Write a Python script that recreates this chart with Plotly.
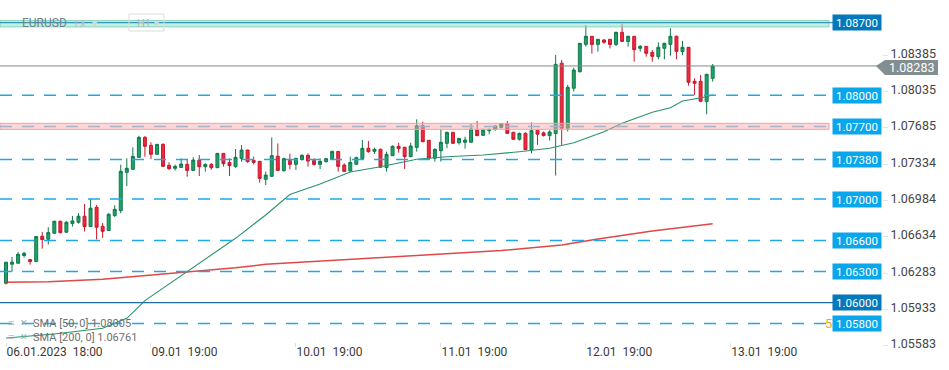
import plotly.graph_objects as go

# ---------------- data ----------------
x_tick_idx = [0, 24, 48, 72, 96, 120]
x_tick_labels = ["06.01.2023\u00a0\u00a018:00", "09.01\u00a0\u00a019:00", "10.01\u00a0\u00a019:00",
                 "11.01\u00a0\u00a019:00", "12.01\u00a0\u00a019:00", "13.01\u00a0\u00a019:00"]

opens = [1.06188, 1.06371, 1.06381, 1.06455, 1.06416, 1.06397, 1.06641, 1.06612, 1.06670, 1.06785,
         1.06680, 1.06763, 1.06776, 1.06834, 1.06734, 1.06920, 1.06737, 1.06696, 1.06840, 1.06888,
         1.07257, 1.07286, 1.07402, 1.07594, 1.07517, 1.07431, 1.07527, 1.07325, 1.07296, 1.07305,
         1.07334, 1.07276, 1.07376, 1.07312, 1.07334, 1.07302, 1.07440, 1.07353, 1.07312, 1.07392,
         1.07472, 1.07372, 1.07363, 1.07190, 1.07219, 1.07412, 1.07273, 1.07370, 1.07334, 1.07379,
         1.07421, 1.07370, 1.07334, 1.07360, 1.07389, 1.07459, 1.07328, 1.07270, 1.07335, 1.07389,
         1.07489, 1.07460, 1.07479, 1.07303, 1.07418, 1.07508, 1.07498, 1.07409, 1.07498, 1.07707,
         1.07566, 1.07393, 1.07466, 1.07537, 1.07643, 1.07543, 1.07547, 1.07547, 1.07665, 1.07614,
         1.07659, 1.07672, 1.07691, 1.07723, 1.07643, 1.07576, 1.07633, 1.07476, 1.07663, 1.07638,
         1.07612, 1.07631, 1.08309, 1.07683, 1.08068, 1.08228, 1.08491, 1.08569, 1.08491, 1.08533,
         1.08540, 1.08491, 1.08607, 1.08520, 1.08569, 1.08453, 1.08472, 1.08414, 1.08373, 1.08453,
         1.08491, 1.08569, 1.08421, 1.08463, 1.08135, 1.08135, 1.07940, 1.08164]
highs = [1.06392, 1.06442, 1.06487, 1.06490, 1.06419, 1.06644, 1.06683, 1.06728, 1.06792, 1.06792,
         1.06786, 1.06837, 1.06863, 1.06952, 1.07001, 1.06943, 1.06769, 1.06862, 1.06940, 1.07331,
         1.07392, 1.07498, 1.07610, 1.07607, 1.07546, 1.07530, 1.07537, 1.07354, 1.07331, 1.07392,
         1.07386, 1.07402, 1.07424, 1.07344, 1.07344, 1.07443, 1.07443, 1.07392, 1.07482, 1.07520,
         1.07475, 1.07408, 1.07366, 1.07264, 1.07594, 1.07536, 1.07398, 1.07437, 1.07398, 1.07431,
         1.07440, 1.07392, 1.07392, 1.07395, 1.07466, 1.07462, 1.07344, 1.07408, 1.07409, 1.07569,
         1.07560, 1.07495, 1.07486, 1.07457, 1.07518, 1.07543, 1.07505, 1.07543, 1.07768, 1.07746,
         1.07569, 1.07489, 1.07675, 1.07649, 1.07646, 1.07588, 1.07601, 1.07723, 1.07752, 1.07678,
         1.07681, 1.07710, 1.07733, 1.07752, 1.07649, 1.07640, 1.07643, 1.07739, 1.07669, 1.07651,
         1.07663, 1.08389, 1.08341, 1.08100, 1.08267, 1.08504, 1.08678, 1.08572, 1.08543, 1.08543,
         1.08543, 1.08614, 1.08690, 1.08575, 1.08572, 1.08485, 1.08475, 1.08437, 1.08511, 1.08507,
         1.08646, 1.08575, 1.08524, 1.08466, 1.08164, 1.08196, 1.08206, 1.08302]
lows = [1.06176, 1.06301, 1.06378, 1.06436, 1.06368, 1.06395, 1.06522, 1.06561, 1.06667, 1.06667,
        1.06677, 1.06734, 1.06763, 1.06686, 1.06731, 1.06609, 1.06625, 1.06693, 1.06827, 1.06863,
        1.07126, 1.07283, 1.07399, 1.07408, 1.07386, 1.07428, 1.07312, 1.07280, 1.07274, 1.07302,
        1.07215, 1.07273, 1.07222, 1.07264, 1.07283, 1.07299, 1.07312, 1.07222, 1.07302, 1.07360,
        1.07350, 1.07334, 1.07158, 1.07135, 1.07216, 1.07273, 1.07264, 1.07286, 1.07280, 1.07373,
        1.07312, 1.07321, 1.07289, 1.07354, 1.07382, 1.07264, 1.07264, 1.07264, 1.07328, 1.07386,
        1.07447, 1.07434, 1.07303, 1.07264, 1.07415, 1.07447, 1.07290, 1.07402, 1.07457, 1.07547,
        1.07390, 1.07361, 1.07361, 1.07489, 1.07534, 1.07524, 1.07486, 1.07543, 1.07608, 1.07611,
        1.07624, 1.07659, 1.07681, 1.07630, 1.07569, 1.07563, 1.07473, 1.07441, 1.07522, 1.07602,
        1.07564, 1.07227, 1.07522, 1.07651, 1.08036, 1.08219, 1.08469, 1.08402, 1.08421, 1.08498,
        1.08453, 1.08475, 1.08517, 1.08469, 1.08324, 1.08421, 1.08373, 1.08324, 1.08347, 1.08347,
        1.08382, 1.08347, 1.08386, 1.08093, 1.08004, 1.07933, 1.07817, 1.08132]
closes = [1.06391, 1.06391, 1.06468, 1.06477, 1.06397, 1.06638, 1.06609, 1.06676, 1.06785, 1.06676,
          1.06776, 1.06789, 1.06834, 1.06734, 1.06911, 1.06728, 1.06689, 1.06853, 1.06901, 1.07267,
          1.07296, 1.07411, 1.07594, 1.07508, 1.07431, 1.07527, 1.07315, 1.07293, 1.07315, 1.07337,
          1.07276, 1.07376, 1.07312, 1.07334, 1.07302, 1.07440, 1.07341, 1.07321, 1.07402, 1.07472,
          1.07360, 1.07353, 1.07199, 1.07231, 1.07418, 1.07276, 1.07389, 1.07334, 1.07392, 1.07421,
          1.07366, 1.07334, 1.07363, 1.07389, 1.07459, 1.07315, 1.07267, 1.07353, 1.07399, 1.07489,
          1.07457, 1.07479, 1.07306, 1.07431, 1.07508, 1.07486, 1.07409, 1.07511, 1.07707, 1.07553,
          1.07393, 1.07479, 1.07547, 1.07643, 1.07537, 1.07585, 1.07569, 1.07675, 1.07611, 1.07665,
          1.07669, 1.07704, 1.07726, 1.07633, 1.07576, 1.07633, 1.07476, 1.07659, 1.07625, 1.07612,
          1.07647, 1.08299, 1.07683, 1.08077, 1.08244, 1.08501, 1.08569, 1.08491, 1.08540, 1.08511,
          1.08491, 1.08607, 1.08520, 1.08569, 1.08440, 1.08472, 1.08405, 1.08376, 1.08463, 1.08501,
          1.08569, 1.08424, 1.08463, 1.08126, 1.08116, 1.07943, 1.08203, 1.08283]

sma50_idx = [0, 8, 16, 20, 23, 30, 38, 43, 47, 52, 57, 62, 68, 73, 79, 85, 88, 90, 94, 99,
             102, 104, 107, 110, 112, 116, 117]
sma50_val = [1.05660, 1.05698, 1.05753, 1.05850, 1.06020, 1.06299, 1.06621, 1.06846, 1.07043, 1.07145,
             1.07260, 1.07311, 1.07383, 1.07408, 1.07424, 1.07456, 1.07477, 1.07489, 1.07543, 1.07649,
             1.07730, 1.07771, 1.07836, 1.07880, 1.07945, 1.07986, 1.08005]

sma200_idx = [0, 7, 16, 21, 27, 32, 38, 43, 52, 72, 82, 92, 98, 107, 117]
sma200_val = [1.06197, 1.06202, 1.06226, 1.06251, 1.06277, 1.06309, 1.06337, 1.06370, 1.06402,
              1.06470, 1.06503, 1.06556, 1.06614, 1.06691, 1.06761]

y_ticks = [1.08385, 1.08035, 1.07685, 1.07334, 1.06984, 1.06634, 1.06283, 1.05933, 1.05583]
dashed_levels = [1.08000, 1.07380, 1.07000, 1.06600, 1.06300, 1.05800]
dark_levels = [1.08700, 1.06000]
green_zone = [1.08660, 1.08720]
red_zone = [1.07672, 1.07730]
red_zone_level = 1.07700
last_price = 1.08283
sma50_last = 1.08005
sma200_last = 1.06761

# ---------------- layout geometry ----------------
W, H = 949, 370
ML, MR, MT, MB = 0, 67, 0, 23
PW, PH = W - ML - MR, H - MT - MB
Y_RANGE = [1.05573, 1.08919]
X_RANGE = [-0.993, 145.03]
DPX = (Y_RANGE[1] - Y_RANGE[0]) / PH  # price per pixel


def px(xp):
    return xp / PW


def py(yp):
    return 1 - yp / PH


n = len(opens)
xs = list(range(n))

fig = go.Figure()
fig.add_trace(go.Candlestick(
    x=xs, open=opens, high=highs, low=lows, close=closes,
    increasing=dict(line=dict(color="#11784b", width=1), fillcolor="#20a26b"),
    decreasing=dict(line=dict(color="#c8192d", width=1), fillcolor="#ee2a3e"),
    whiskerwidth=0, hoverinfo="skip"))
fig.add_trace(go.Scatter(x=sma200_idx, y=sma200_val, mode="lines",
                         line=dict(color="rgba(216,40,40,0.85)", width=1.5), hoverinfo="skip"))
fig.add_trace(go.Scatter(x=sma50_idx, y=sma50_val, mode="lines",
                         line=dict(color="#2a9368", width=1.1), hoverinfo="skip"))

shapes = []
X_END = px(833)
# green zone
shapes.append(dict(type="rect", xref="paper", yref="y", x0=0, x1=px(829), y0=green_zone[0], y1=green_zone[1],
                   fillcolor="rgba(150,228,200,0.55)", line=dict(color="#7fd4b9", width=1), layer="above"))
# red zone
shapes.append(dict(type="rect", xref="paper", yref="y", x0=0, x1=px(829), y0=red_zone[0], y1=red_zone[1],
                   fillcolor="rgba(250,165,165,0.45)", line=dict(color="#f2a2a2", width=1), layer="above"))
shapes.append(dict(type="line", xref="paper", yref="y", x0=0, x1=X_END, y0=red_zone_level, y1=red_zone_level,
                   line=dict(color="#a7b3c9", width=1.5, dash="12px,10px"), layer="above"))
for lv in dashed_levels:
    shapes.append(dict(type="line", xref="paper", yref="y", x0=0, x1=X_END, y0=lv, y1=lv,
                       line=dict(color="#22a6ea", width=1.5, dash="12px,10px"), layer="above"))
shapes.append(dict(type="line", xref="paper", yref="y", x0=0, x1=X_END, y0=dark_levels[0], y1=dark_levels[0],
                   line=dict(color="#3595bd", width=1.2), layer="above"))
shapes.append(dict(type="line", xref="paper", yref="y", x0=0, x1=X_END, y0=dark_levels[1], y1=dark_levels[1],
                   line=dict(color="#1d6fa5", width=1.2), layer="above"))
# last price line
shapes.append(dict(type="line", xref="paper", yref="y", x0=0, x1=px(878), y0=last_price, y1=last_price,
                   line=dict(color="#7f8b8d", width=1), layer="above"))
# last price arrow box (slightly below the line, as in the source)
top = last_price + 6 * DPX
bot = last_price - 9 * DPX
shapes.append(dict(type="path", xref="paper", yref="y", layer="above",
                   path=(f"M {px(876)},{last_price} L {px(885)},{top} L {px(938)},{top} "
                         f"L {px(938)},{bot} L {px(885)},{bot} Z"),
                   fillcolor="#838e90", line=dict(width=0)))
# H1 box in header
shapes.append(dict(type="rect", xref="paper", yref="paper", x0=px(129), x1=px(164), y0=py(31), y1=py(14),
                   line=dict(color="#dcdcdc", width=1), fillcolor="rgba(0,0,0,0)", layer="above"))

annotations = []
# orange partial text near 1.058
annotations.append(dict(xref="paper", yref="y", x=px(834), y=1.05800, text="5", showarrow=False,
                        xanchor="right", yanchor="middle", font=dict(color="#f5a623", size=13)))
# level boxes
for lv in dashed_levels + [red_zone_level]:
    annotations.append(dict(xref="paper", yref="y", x=px(857), y=lv, text=f"{lv:.5f}", showarrow=False,
                            xanchor="center", yanchor="middle", bgcolor="#0aa6ec", width=48, height=15,
                            borderpad=0, font=dict(color="white", size=11.5)))
for lv in dark_levels:
    annotations.append(dict(xref="paper", yref="y", x=px(857), y=lv, text=f"{lv:.5f}", showarrow=False,
                            xanchor="center", yanchor="middle", bgcolor="#0379bb", width=48, height=15,
                            borderpad=0, font=dict(color="white", size=11.5)))
annotations.append(dict(xref="paper", yref="y", x=px(911), y=last_price, yshift=-2, text=f"{last_price:.5f}",
                        showarrow=False, xanchor="center", yanchor="middle", borderpad=0,
                        font=dict(color="white", size=12.5)))
# header
annotations.append(dict(xref="paper", yref="paper", x=px(20), y=py(23), text="EURUSD", showarrow=False,
                        xanchor="left", yanchor="middle", font=dict(color="#74818a", size=12)))
annotations.append(dict(xref="paper", yref="paper", x=px(73), y=py(24), text="FX", showarrow=False,
                        xanchor="left", yanchor="middle", font=dict(color="#b5c0c3", size=9)))
annotations.append(dict(xref="paper", yref="paper", x=px(90), y=py(23), text="▾", showarrow=False,
                        xanchor="left", yanchor="middle", font=dict(color="#cfd6d8", size=10)))
annotations.append(dict(xref="paper", yref="paper", x=px(135), y=py(23), text="H1", showarrow=False,
                        xanchor="left", yanchor="middle", font=dict(color="#b0babd", size=11)))
annotations.append(dict(xref="paper", yref="paper", x=px(152), y=py(23), text="▾", showarrow=False,
                        xanchor="left", yanchor="middle", font=dict(color="#cfd6d8", size=10)))
# SMA legend
for row_y, txt in [(323, f"SMA [50, 0] {sma50_last:.5f}"), (337, f"SMA [200, 0] {sma200_last:.5f}")]:
    annotations.append(dict(xref="paper", yref="paper", x=px(6), y=py(row_y), text="≡", showarrow=False,
                            xanchor="left", yanchor="middle", font=dict(color="#9aa1a6", size=12)))
    annotations.append(dict(xref="paper", yref="paper", x=px(18), y=py(row_y), text="✕", showarrow=False,
                            xanchor="left", yanchor="middle", font=dict(color="#9aa1a6", size=9)))
    annotations.append(dict(xref="paper", yref="paper", x=px(31), y=py(row_y), text=txt, showarrow=False,
                            xanchor="left", yanchor="middle", font=dict(color="#6f6f6f", size=11)))

fig.update_layout(
    width=W, height=H, margin=dict(l=ML, r=MR, t=MT, b=MB),
    paper_bgcolor="white", plot_bgcolor="white", showlegend=False,
    font=dict(family="Roboto", size=12, color="#444"),
    shapes=shapes, annotations=annotations,
    xaxis=dict(range=X_RANGE, showgrid=False, zeroline=False, showline=False,
               tickvals=x_tick_idx, ticktext=x_tick_labels, ticks="inside", ticklen=4, tickcolor="#e0e0e0",
               ticklabelposition="outside right", ticklabelstandoff=-4,
               tickfont=dict(size=12, color="#3a3a3a"), rangeslider=dict(visible=False)),
    yaxis=dict(range=Y_RANGE, side="right", showgrid=False, zeroline=False, showline=False,
               tickvals=y_ticks, ticktext=[f"{v:.5f}" for v in y_ticks], ticks="outside", ticklen=5,
               tickcolor="#e3e3e3", ticklabelshift=-2, tickfont=dict(size=12.5, color="#444")),
)

fig.write_html("out.html", config={"displayModeBar": False, "staticPlot": True},
               post_script="document.body.style.margin='0px';document.body.style.overflow='hidden';")
